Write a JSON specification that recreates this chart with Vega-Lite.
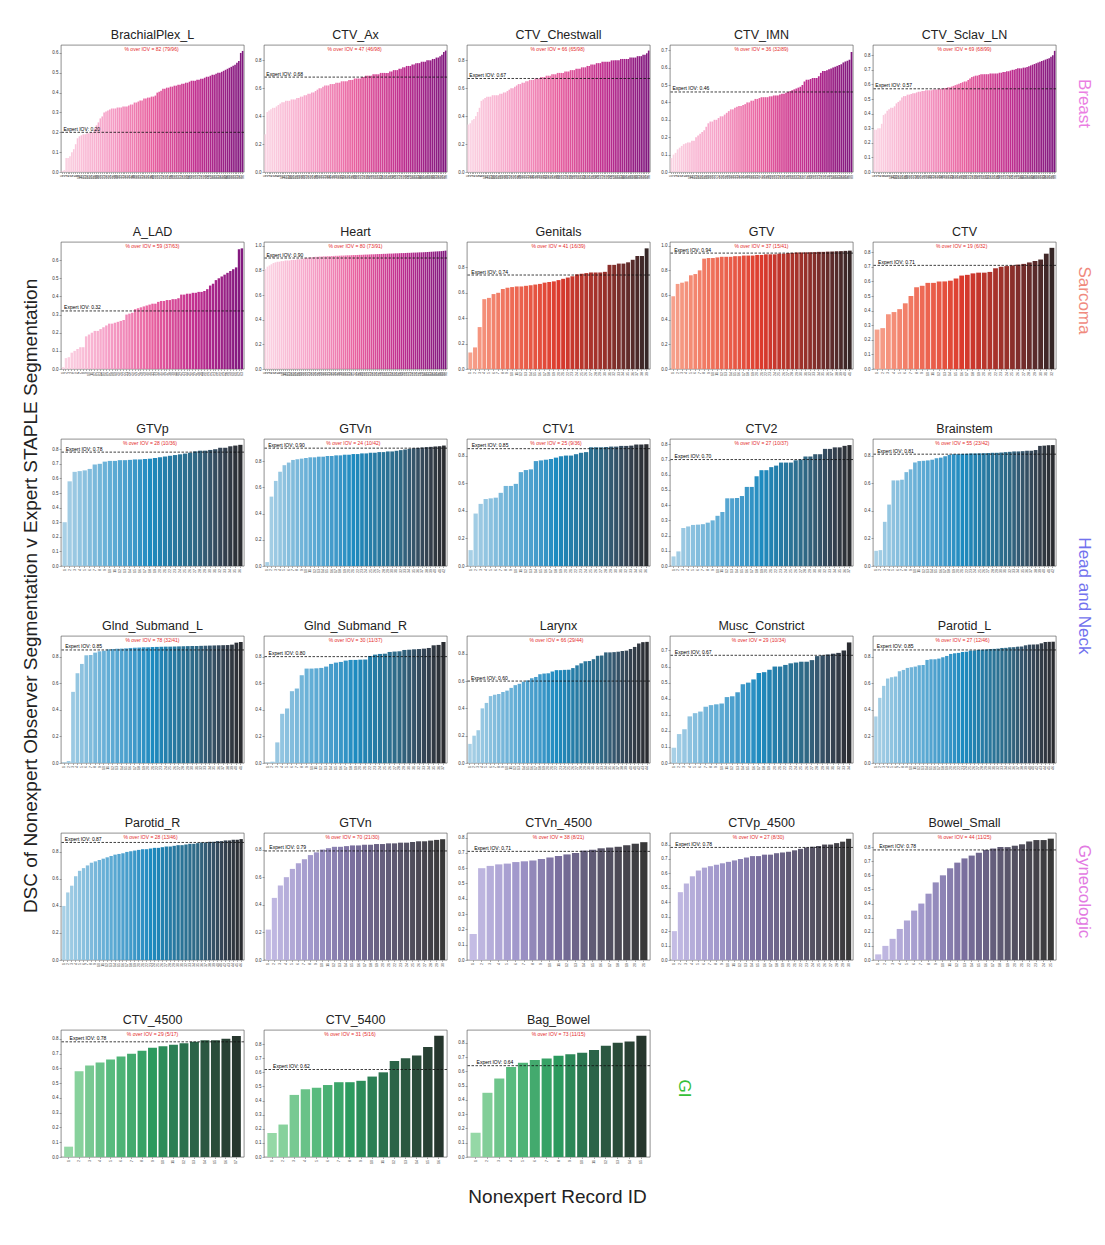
{
"$schema":"https://vega.github.io/schema/vega-lite/v6.json",
"padding":{"left":22,"top":28,"right":5,"bottom":5},
"background":"white",
"config":{
"font":"Liberation Sans",
"view":{"stroke":"#444","strokeWidth":0.6},
"title":{"fontSize":12.5,"fontWeight":"normal","color":"#222","offset":4,"font":"Liberation Sans"},
"axis":{"grid":false,"domain":false,"labelColor":"#333","tickColor":"#555","tickSize":2,"labelPadding":1,"tickWidth":0.5,"labelOverlap":false},
"axisX":{"labelAngle":-90,"labelFontSize":3.5,"labelOverlap":false,"tickSize":1.5},
"axisY":{"labelFontSize":4.5,"format":".1f","labelOverlap":false},
"scale":{"bandPaddingInner":0.15,"bandPaddingOuter":0.3},
"style":{
"iovline":{"strokeDash":[2.5,1.5],"strokeWidth":0.8},
"iovtext":{"align":"left","baseline":"bottom","fontSize":5,"dx":1,"dy":-0.5},
"pcttext":{"align":"center","baseline":"top","fontSize":5,"dy":2}
}
},
"datasets":{
"brachial":[{"i":1,"v":0.005},{"i":2,"v":0.01},{"i":3,"v":0.07},{"i":4,"v":0.07},{"i":5,"v":0.08},{"i":6,"v":0.10},{"i":7,"v":0.115},{"i":8,"v":0.14},{"i":9,"v":0.17},{"i":10,"v":0.18},{"i":11,"v":0.185},{"i":12,"v":0.19},{"i":13,"v":0.19},{"i":14,"v":0.195},{"i":15,"v":0.195},{"i":16,"v":0.20},{"i":17,"v":0.20},{"i":18,"v":0.22},{"i":19,"v":0.235},{"i":20,"v":0.25},{"i":21,"v":0.27},{"i":22,"v":0.28},{"i":23,"v":0.30},{"i":24,"v":0.305},{"i":25,"v":0.31},{"i":26,"v":0.315},{"i":27,"v":0.32},{"i":28,"v":0.32},{"i":29,"v":0.32},{"i":30,"v":0.325},{"i":31,"v":0.325},{"i":32,"v":0.325},{"i":33,"v":0.33},{"i":34,"v":0.33},{"i":35,"v":0.33},{"i":36,"v":0.335},{"i":37,"v":0.34},{"i":38,"v":0.34},{"i":39,"v":0.35},{"i":40,"v":0.35},{"i":41,"v":0.355},{"i":42,"v":0.36},{"i":43,"v":0.36},{"i":44,"v":0.37},{"i":45,"v":0.37},{"i":46,"v":0.375},{"i":47,"v":0.375},{"i":48,"v":0.38},{"i":49,"v":0.38},{"i":50,"v":0.385},{"i":51,"v":0.40},{"i":52,"v":0.405},{"i":53,"v":0.41},{"i":54,"v":0.42},{"i":55,"v":0.42},{"i":56,"v":0.425},{"i":57,"v":0.425},{"i":58,"v":0.43},{"i":59,"v":0.43},{"i":60,"v":0.435},{"i":61,"v":0.435},{"i":62,"v":0.44},{"i":63,"v":0.44},{"i":64,"v":0.445},{"i":65,"v":0.445},{"i":66,"v":0.45},{"i":67,"v":0.45},{"i":68,"v":0.455},{"i":69,"v":0.46},{"i":70,"v":0.46},{"i":71,"v":0.46},{"i":72,"v":0.465},{"i":73,"v":0.465},{"i":74,"v":0.47},{"i":75,"v":0.47},{"i":76,"v":0.475},{"i":77,"v":0.48},{"i":78,"v":0.48},{"i":79,"v":0.485},{"i":80,"v":0.49},{"i":81,"v":0.49},{"i":82,"v":0.495},{"i":83,"v":0.50},{"i":84,"v":0.50},{"i":85,"v":0.505},{"i":86,"v":0.51},{"i":87,"v":0.515},{"i":88,"v":0.52},{"i":89,"v":0.525},{"i":90,"v":0.53},{"i":91,"v":0.535},{"i":92,"v":0.54},{"i":93,"v":0.55},{"i":94,"v":0.56},{"i":95,"v":0.60},{"i":96,"v":0.61}],
"ctvax":[{"i":1,"v":0.27},{"i":2,"v":0.43},{"i":3,"v":0.44},{"i":4,"v":0.45},{"i":5,"v":0.46},{"i":6,"v":0.46},{"i":7,"v":0.47},{"i":8,"v":0.48},{"i":9,"v":0.49},{"i":10,"v":0.50},{"i":11,"v":0.50},{"i":12,"v":0.51},{"i":13,"v":0.51},{"i":14,"v":0.51},{"i":15,"v":0.52},{"i":16,"v":0.52},{"i":17,"v":0.52},{"i":18,"v":0.53},{"i":19,"v":0.53},{"i":20,"v":0.54},{"i":21,"v":0.54},{"i":22,"v":0.55},{"i":23,"v":0.55},{"i":24,"v":0.56},{"i":25,"v":0.56},{"i":26,"v":0.57},{"i":27,"v":0.57},{"i":28,"v":0.58},{"i":29,"v":0.59},{"i":30,"v":0.60},{"i":31,"v":0.60},{"i":32,"v":0.61},{"i":33,"v":0.62},{"i":34,"v":0.62},{"i":35,"v":0.62},{"i":36,"v":0.63},{"i":37,"v":0.63},{"i":38,"v":0.63},{"i":39,"v":0.64},{"i":40,"v":0.64},{"i":41,"v":0.64},{"i":42,"v":0.65},{"i":43,"v":0.65},{"i":44,"v":0.65},{"i":45,"v":0.65},{"i":46,"v":0.66},{"i":47,"v":0.66},{"i":48,"v":0.66},{"i":49,"v":0.67},{"i":50,"v":0.67},{"i":51,"v":0.67},{"i":52,"v":0.67},{"i":53,"v":0.68},{"i":54,"v":0.68},{"i":55,"v":0.69},{"i":56,"v":0.69},{"i":57,"v":0.69},{"i":58,"v":0.69},{"i":59,"v":0.70},{"i":60,"v":0.70},{"i":61,"v":0.70},{"i":62,"v":0.70},{"i":63,"v":0.71},{"i":64,"v":0.71},{"i":65,"v":0.71},{"i":66,"v":0.71},{"i":67,"v":0.71},{"i":68,"v":0.72},{"i":69,"v":0.72},{"i":70,"v":0.73},{"i":71,"v":0.73},{"i":72,"v":0.73},{"i":73,"v":0.74},{"i":74,"v":0.74},{"i":75,"v":0.75},{"i":76,"v":0.75},{"i":77,"v":0.76},{"i":78,"v":0.76},{"i":79,"v":0.76},{"i":80,"v":0.77},{"i":81,"v":0.77},{"i":82,"v":0.78},{"i":83,"v":0.78},{"i":84,"v":0.78},{"i":85,"v":0.79},{"i":86,"v":0.79},{"i":87,"v":0.79},{"i":88,"v":0.80},{"i":89,"v":0.80},{"i":90,"v":0.80},{"i":91,"v":0.81},{"i":92,"v":0.81},{"i":93,"v":0.82},{"i":94,"v":0.82},{"i":95,"v":0.83},{"i":96,"v":0.84},{"i":97,"v":0.86},{"i":98,"v":0.87}],
"chest":[{"i":1,"v":0.34},{"i":2,"v":0.35},{"i":3,"v":0.37},{"i":4,"v":0.38},{"i":5,"v":0.40},{"i":6,"v":0.43},{"i":7,"v":0.46},{"i":8,"v":0.51},{"i":9,"v":0.52},{"i":10,"v":0.53},{"i":11,"v":0.54},{"i":12,"v":0.54},{"i":13,"v":0.54},{"i":14,"v":0.55},{"i":15,"v":0.55},{"i":16,"v":0.55},{"i":17,"v":0.55},{"i":18,"v":0.56},{"i":19,"v":0.56},{"i":20,"v":0.57},{"i":21,"v":0.57},{"i":22,"v":0.58},{"i":23,"v":0.59},{"i":24,"v":0.60},{"i":25,"v":0.60},{"i":26,"v":0.61},{"i":27,"v":0.62},{"i":28,"v":0.63},{"i":29,"v":0.63},{"i":30,"v":0.64},{"i":31,"v":0.64},{"i":32,"v":0.65},{"i":33,"v":0.65},{"i":34,"v":0.66},{"i":35,"v":0.66},{"i":36,"v":0.66},{"i":37,"v":0.67},{"i":38,"v":0.67},{"i":39,"v":0.67},{"i":40,"v":0.68},{"i":41,"v":0.68},{"i":42,"v":0.68},{"i":43,"v":0.69},{"i":44,"v":0.69},{"i":45,"v":0.69},{"i":46,"v":0.70},{"i":47,"v":0.70},{"i":48,"v":0.70},{"i":49,"v":0.71},{"i":50,"v":0.71},{"i":51,"v":0.71},{"i":52,"v":0.71},{"i":53,"v":0.72},{"i":54,"v":0.72},{"i":55,"v":0.72},{"i":56,"v":0.73},{"i":57,"v":0.73},{"i":58,"v":0.73},{"i":59,"v":0.74},{"i":60,"v":0.74},{"i":61,"v":0.74},{"i":62,"v":0.75},{"i":63,"v":0.75},{"i":64,"v":0.75},{"i":65,"v":0.76},{"i":66,"v":0.76},{"i":67,"v":0.77},{"i":68,"v":0.77},{"i":69,"v":0.77},{"i":70,"v":0.78},{"i":71,"v":0.78},{"i":72,"v":0.78},{"i":73,"v":0.79},{"i":74,"v":0.79},{"i":75,"v":0.79},{"i":76,"v":0.79},{"i":77,"v":0.79},{"i":78,"v":0.80},{"i":79,"v":0.80},{"i":80,"v":0.80},{"i":81,"v":0.80},{"i":82,"v":0.80},{"i":83,"v":0.81},{"i":84,"v":0.81},{"i":85,"v":0.81},{"i":86,"v":0.81},{"i":87,"v":0.81},{"i":88,"v":0.82},{"i":89,"v":0.82},{"i":90,"v":0.82},{"i":91,"v":0.82},{"i":92,"v":0.83},{"i":93,"v":0.83},{"i":94,"v":0.83},{"i":95,"v":0.84},{"i":96,"v":0.84},{"i":97,"v":0.85},{"i":98,"v":0.87}],
"imn":[{"i":1,"v":0.08},{"i":2,"v":0.10},{"i":3,"v":0.11},{"i":4,"v":0.13},{"i":5,"v":0.14},{"i":6,"v":0.15},{"i":7,"v":0.16},{"i":8,"v":0.165},{"i":9,"v":0.17},{"i":10,"v":0.17},{"i":11,"v":0.18},{"i":12,"v":0.18},{"i":13,"v":0.20},{"i":14,"v":0.21},{"i":15,"v":0.22},{"i":16,"v":0.23},{"i":17,"v":0.24},{"i":18,"v":0.26},{"i":19,"v":0.28},{"i":20,"v":0.29},{"i":21,"v":0.29},{"i":22,"v":0.30},{"i":23,"v":0.30},{"i":24,"v":0.31},{"i":25,"v":0.32},{"i":26,"v":0.32},{"i":27,"v":0.33},{"i":28,"v":0.34},{"i":29,"v":0.35},{"i":30,"v":0.36},{"i":31,"v":0.36},{"i":32,"v":0.37},{"i":33,"v":0.375},{"i":34,"v":0.38},{"i":35,"v":0.38},{"i":36,"v":0.385},{"i":37,"v":0.39},{"i":38,"v":0.40},{"i":39,"v":0.40},{"i":40,"v":0.41},{"i":41,"v":0.41},{"i":42,"v":0.42},{"i":43,"v":0.42},{"i":44,"v":0.425},{"i":45,"v":0.43},{"i":46,"v":0.43},{"i":47,"v":0.43},{"i":48,"v":0.43},{"i":49,"v":0.435},{"i":50,"v":0.435},{"i":51,"v":0.44},{"i":52,"v":0.44},{"i":53,"v":0.44},{"i":54,"v":0.445},{"i":55,"v":0.45},{"i":56,"v":0.45},{"i":57,"v":0.455},{"i":58,"v":0.46},{"i":59,"v":0.465},{"i":60,"v":0.47},{"i":61,"v":0.475},{"i":62,"v":0.48},{"i":63,"v":0.485},{"i":64,"v":0.49},{"i":65,"v":0.50},{"i":66,"v":0.52},{"i":67,"v":0.53},{"i":68,"v":0.53},{"i":69,"v":0.535},{"i":70,"v":0.54},{"i":71,"v":0.54},{"i":72,"v":0.54},{"i":73,"v":0.55},{"i":74,"v":0.57},{"i":75,"v":0.58},{"i":76,"v":0.58},{"i":77,"v":0.585},{"i":78,"v":0.59},{"i":79,"v":0.595},{"i":80,"v":0.60},{"i":81,"v":0.605},{"i":82,"v":0.61},{"i":83,"v":0.615},{"i":84,"v":0.62},{"i":85,"v":0.63},{"i":86,"v":0.635},{"i":87,"v":0.64},{"i":88,"v":0.645},{"i":89,"v":0.69}],
"sclav":[{"i":1,"v":0.29},{"i":2,"v":0.29},{"i":3,"v":0.30},{"i":4,"v":0.30},{"i":5,"v":0.33},{"i":6,"v":0.39},{"i":7,"v":0.40},{"i":8,"v":0.42},{"i":9,"v":0.43},{"i":10,"v":0.44},{"i":11,"v":0.44},{"i":12,"v":0.45},{"i":13,"v":0.47},{"i":14,"v":0.48},{"i":15,"v":0.49},{"i":16,"v":0.51},{"i":17,"v":0.52},{"i":18,"v":0.52},{"i":19,"v":0.53},{"i":20,"v":0.53},{"i":21,"v":0.535},{"i":22,"v":0.54},{"i":23,"v":0.54},{"i":24,"v":0.545},{"i":25,"v":0.55},{"i":26,"v":0.55},{"i":27,"v":0.555},{"i":28,"v":0.555},{"i":29,"v":0.56},{"i":30,"v":0.56},{"i":31,"v":0.56},{"i":32,"v":0.56},{"i":33,"v":0.565},{"i":34,"v":0.565},{"i":35,"v":0.565},{"i":36,"v":0.57},{"i":37,"v":0.57},{"i":38,"v":0.57},{"i":39,"v":0.575},{"i":40,"v":0.575},{"i":41,"v":0.58},{"i":42,"v":0.58},{"i":43,"v":0.585},{"i":44,"v":0.59},{"i":45,"v":0.595},{"i":46,"v":0.60},{"i":47,"v":0.605},{"i":48,"v":0.61},{"i":49,"v":0.615},{"i":50,"v":0.62},{"i":51,"v":0.62},{"i":52,"v":0.63},{"i":53,"v":0.64},{"i":54,"v":0.65},{"i":55,"v":0.655},{"i":56,"v":0.66},{"i":57,"v":0.66},{"i":58,"v":0.665},{"i":59,"v":0.67},{"i":60,"v":0.67},{"i":61,"v":0.67},{"i":62,"v":0.67},{"i":63,"v":0.67},{"i":64,"v":0.675},{"i":65,"v":0.675},{"i":66,"v":0.675},{"i":67,"v":0.675},{"i":68,"v":0.675},{"i":69,"v":0.68},{"i":70,"v":0.68},{"i":71,"v":0.685},{"i":72,"v":0.685},{"i":73,"v":0.69},{"i":74,"v":0.69},{"i":75,"v":0.695},{"i":76,"v":0.70},{"i":77,"v":0.70},{"i":78,"v":0.705},{"i":79,"v":0.71},{"i":80,"v":0.71},{"i":81,"v":0.71},{"i":82,"v":0.715},{"i":83,"v":0.715},{"i":84,"v":0.72},{"i":85,"v":0.725},{"i":86,"v":0.73},{"i":87,"v":0.735},{"i":88,"v":0.74},{"i":89,"v":0.745},{"i":90,"v":0.75},{"i":91,"v":0.755},{"i":92,"v":0.76},{"i":93,"v":0.765},{"i":94,"v":0.77},{"i":95,"v":0.775},{"i":96,"v":0.78},{"i":97,"v":0.79},{"i":98,"v":0.80},{"i":99,"v":0.83}],
"alad":[{"i":1,"v":0.01},{"i":2,"v":0.06},{"i":3,"v":0.065},{"i":4,"v":0.09},{"i":5,"v":0.10},{"i":6,"v":0.11},{"i":7,"v":0.12},{"i":8,"v":0.12},{"i":9,"v":0.18},{"i":10,"v":0.19},{"i":11,"v":0.20},{"i":12,"v":0.21},{"i":13,"v":0.21},{"i":14,"v":0.22},{"i":15,"v":0.23},{"i":16,"v":0.24},{"i":17,"v":0.25},{"i":18,"v":0.25},{"i":19,"v":0.255},{"i":20,"v":0.26},{"i":21,"v":0.265},{"i":22,"v":0.27},{"i":23,"v":0.30},{"i":24,"v":0.305},{"i":25,"v":0.31},{"i":26,"v":0.33},{"i":27,"v":0.335},{"i":28,"v":0.34},{"i":29,"v":0.345},{"i":30,"v":0.35},{"i":31,"v":0.355},{"i":32,"v":0.36},{"i":33,"v":0.36},{"i":34,"v":0.37},{"i":35,"v":0.375},{"i":36,"v":0.375},{"i":37,"v":0.38},{"i":38,"v":0.38},{"i":39,"v":0.385},{"i":40,"v":0.385},{"i":41,"v":0.39},{"i":42,"v":0.41},{"i":43,"v":0.41},{"i":44,"v":0.415},{"i":45,"v":0.415},{"i":46,"v":0.42},{"i":47,"v":0.42},{"i":48,"v":0.425},{"i":49,"v":0.425},{"i":50,"v":0.43},{"i":51,"v":0.44},{"i":52,"v":0.46},{"i":53,"v":0.47},{"i":54,"v":0.49},{"i":55,"v":0.50},{"i":56,"v":0.51},{"i":57,"v":0.52},{"i":58,"v":0.53},{"i":59,"v":0.54},{"i":60,"v":0.55},{"i":61,"v":0.56},{"i":62,"v":0.66},{"i":63,"v":0.665}],
"heart":[{"i":1,"v":0.81},{"i":2,"v":0.83},{"i":3,"v":0.84},{"i":4,"v":0.85},{"i":5,"v":0.86},{"i":6,"v":0.865},{"i":7,"v":0.87},{"i":8,"v":0.87},{"i":9,"v":0.875},{"i":10,"v":0.875},{"i":11,"v":0.88},{"i":12,"v":0.88},{"i":13,"v":0.88},{"i":14,"v":0.885},{"i":15,"v":0.885},{"i":16,"v":0.885},{"i":17,"v":0.89},{"i":18,"v":0.89},{"i":19,"v":0.89},{"i":20,"v":0.895},{"i":21,"v":0.90},{"i":22,"v":0.902},{"i":23,"v":0.904},{"i":24,"v":0.906},{"i":25,"v":0.908},{"i":26,"v":0.91},{"i":27,"v":0.91},{"i":28,"v":0.912},{"i":29,"v":0.912},{"i":30,"v":0.914},{"i":31,"v":0.914},{"i":32,"v":0.915},{"i":33,"v":0.915},{"i":34,"v":0.916},{"i":35,"v":0.917},{"i":36,"v":0.918},{"i":37,"v":0.918},{"i":38,"v":0.919},{"i":39,"v":0.92},{"i":40,"v":0.92},{"i":41,"v":0.921},{"i":42,"v":0.922},{"i":43,"v":0.922},{"i":44,"v":0.923},{"i":45,"v":0.924},{"i":46,"v":0.924},{"i":47,"v":0.925},{"i":48,"v":0.926},{"i":49,"v":0.926},{"i":50,"v":0.927},{"i":51,"v":0.928},{"i":52,"v":0.928},{"i":53,"v":0.929},{"i":54,"v":0.93},{"i":55,"v":0.93},{"i":56,"v":0.931},{"i":57,"v":0.932},{"i":58,"v":0.932},{"i":59,"v":0.933},{"i":60,"v":0.934},{"i":61,"v":0.934},{"i":62,"v":0.935},{"i":63,"v":0.936},{"i":64,"v":0.936},{"i":65,"v":0.937},{"i":66,"v":0.938},{"i":67,"v":0.938},{"i":68,"v":0.939},{"i":69,"v":0.94},{"i":70,"v":0.94},{"i":71,"v":0.941},{"i":72,"v":0.942},{"i":73,"v":0.942},{"i":74,"v":0.943},{"i":75,"v":0.944},{"i":76,"v":0.944},{"i":77,"v":0.945},{"i":78,"v":0.946},{"i":79,"v":0.946},{"i":80,"v":0.947},{"i":81,"v":0.948},{"i":82,"v":0.949},{"i":83,"v":0.95},{"i":84,"v":0.951},{"i":85,"v":0.952},{"i":86,"v":0.953},{"i":87,"v":0.954},{"i":88,"v":0.955},{"i":89,"v":0.956},{"i":90,"v":0.958},{"i":91,"v":0.96}],
"genitals":[{"i":1,"v":0.13},{"i":2,"v":0.17},{"i":3,"v":0.33},{"i":4,"v":0.55},{"i":5,"v":0.56},{"i":6,"v":0.59},{"i":7,"v":0.60},{"i":8,"v":0.63},{"i":9,"v":0.64},{"i":10,"v":0.645},{"i":11,"v":0.65},{"i":12,"v":0.65},{"i":13,"v":0.655},{"i":14,"v":0.66},{"i":15,"v":0.665},{"i":16,"v":0.67},{"i":17,"v":0.68},{"i":18,"v":0.685},{"i":19,"v":0.69},{"i":20,"v":0.70},{"i":21,"v":0.71},{"i":22,"v":0.72},{"i":23,"v":0.73},{"i":24,"v":0.745},{"i":25,"v":0.75},{"i":26,"v":0.755},{"i":27,"v":0.76},{"i":28,"v":0.76},{"i":29,"v":0.76},{"i":30,"v":0.765},{"i":31,"v":0.82},{"i":32,"v":0.82},{"i":33,"v":0.83},{"i":34,"v":0.83},{"i":35,"v":0.84},{"i":36,"v":0.86},{"i":37,"v":0.89},{"i":38,"v":0.89},{"i":39,"v":0.95}],
"gtvs":[{"i":1,"v":0.59},{"i":2,"v":0.69},{"i":3,"v":0.70},{"i":4,"v":0.71},{"i":5,"v":0.76},{"i":6,"v":0.77},{"i":7,"v":0.80},{"i":8,"v":0.895},{"i":9,"v":0.90},{"i":10,"v":0.90},{"i":11,"v":0.905},{"i":12,"v":0.91},{"i":13,"v":0.91},{"i":14,"v":0.91},{"i":15,"v":0.915},{"i":16,"v":0.915},{"i":17,"v":0.92},{"i":18,"v":0.92},{"i":19,"v":0.92},{"i":20,"v":0.925},{"i":21,"v":0.925},{"i":22,"v":0.93},{"i":23,"v":0.93},{"i":24,"v":0.93},{"i":25,"v":0.935},{"i":26,"v":0.935},{"i":27,"v":0.94},{"i":28,"v":0.942},{"i":29,"v":0.944},{"i":30,"v":0.945},{"i":31,"v":0.946},{"i":32,"v":0.947},{"i":33,"v":0.948},{"i":34,"v":0.95},{"i":35,"v":0.95},{"i":36,"v":0.952},{"i":37,"v":0.953},{"i":38,"v":0.955},{"i":39,"v":0.956},{"i":40,"v":0.958},{"i":41,"v":0.96}],
"ctvs":[{"i":1,"v":0.27},{"i":2,"v":0.28},{"i":3,"v":0.375},{"i":4,"v":0.39},{"i":5,"v":0.41},{"i":6,"v":0.45},{"i":7,"v":0.50},{"i":8,"v":0.56},{"i":9,"v":0.57},{"i":10,"v":0.59},{"i":11,"v":0.59},{"i":12,"v":0.60},{"i":13,"v":0.60},{"i":14,"v":0.605},{"i":15,"v":0.62},{"i":16,"v":0.64},{"i":17,"v":0.645},{"i":18,"v":0.655},{"i":19,"v":0.66},{"i":20,"v":0.66},{"i":21,"v":0.665},{"i":22,"v":0.69},{"i":23,"v":0.70},{"i":24,"v":0.705},{"i":25,"v":0.71},{"i":26,"v":0.715},{"i":27,"v":0.72},{"i":28,"v":0.73},{"i":29,"v":0.74},{"i":30,"v":0.75},{"i":31,"v":0.79},{"i":32,"v":0.83}],
"gtvp":[{"i":1,"v":0.30},{"i":2,"v":0.58},{"i":3,"v":0.645},{"i":4,"v":0.65},{"i":5,"v":0.655},{"i":6,"v":0.665},{"i":7,"v":0.695},{"i":8,"v":0.70},{"i":9,"v":0.715},{"i":10,"v":0.72},{"i":11,"v":0.72},{"i":12,"v":0.725},{"i":13,"v":0.725},{"i":14,"v":0.727},{"i":15,"v":0.73},{"i":16,"v":0.73},{"i":17,"v":0.733},{"i":18,"v":0.735},{"i":19,"v":0.74},{"i":20,"v":0.745},{"i":21,"v":0.75},{"i":22,"v":0.755},{"i":23,"v":0.76},{"i":24,"v":0.765},{"i":25,"v":0.77},{"i":26,"v":0.775},{"i":27,"v":0.785},{"i":28,"v":0.79},{"i":29,"v":0.79},{"i":30,"v":0.795},{"i":31,"v":0.80},{"i":32,"v":0.81},{"i":33,"v":0.81},{"i":34,"v":0.82},{"i":35,"v":0.825},{"i":36,"v":0.83}],
"gtvn":[{"i":1,"v":0.03},{"i":2,"v":0.53},{"i":3,"v":0.65},{"i":4,"v":0.72},{"i":5,"v":0.77},{"i":6,"v":0.79},{"i":7,"v":0.81},{"i":8,"v":0.815},{"i":9,"v":0.82},{"i":10,"v":0.825},{"i":11,"v":0.83},{"i":12,"v":0.83},{"i":13,"v":0.835},{"i":14,"v":0.835},{"i":15,"v":0.84},{"i":16,"v":0.84},{"i":17,"v":0.845},{"i":18,"v":0.845},{"i":19,"v":0.85},{"i":20,"v":0.85},{"i":21,"v":0.855},{"i":22,"v":0.855},{"i":23,"v":0.86},{"i":24,"v":0.86},{"i":25,"v":0.865},{"i":26,"v":0.865},{"i":27,"v":0.87},{"i":28,"v":0.87},{"i":29,"v":0.875},{"i":30,"v":0.875},{"i":31,"v":0.88},{"i":32,"v":0.885},{"i":33,"v":0.89},{"i":34,"v":0.895},{"i":35,"v":0.90},{"i":36,"v":0.902},{"i":37,"v":0.905},{"i":38,"v":0.908},{"i":39,"v":0.91},{"i":40,"v":0.913},{"i":41,"v":0.915},{"i":42,"v":0.92}],
"ctv1":[{"i":1,"v":0.115},{"i":2,"v":0.38},{"i":3,"v":0.45},{"i":4,"v":0.485},{"i":5,"v":0.49},{"i":6,"v":0.495},{"i":7,"v":0.53},{"i":8,"v":0.58},{"i":9,"v":0.58},{"i":10,"v":0.595},{"i":11,"v":0.68},{"i":12,"v":0.695},{"i":13,"v":0.70},{"i":14,"v":0.76},{"i":15,"v":0.765},{"i":16,"v":0.77},{"i":17,"v":0.775},{"i":18,"v":0.785},{"i":19,"v":0.795},{"i":20,"v":0.80},{"i":21,"v":0.80},{"i":22,"v":0.81},{"i":23,"v":0.82},{"i":24,"v":0.825},{"i":25,"v":0.86},{"i":26,"v":0.86},{"i":27,"v":0.86},{"i":28,"v":0.862},{"i":29,"v":0.865},{"i":30,"v":0.865},{"i":31,"v":0.87},{"i":32,"v":0.87},{"i":33,"v":0.872},{"i":34,"v":0.88},{"i":35,"v":0.88},{"i":36,"v":0.882}],
"ctv2":[{"i":1,"v":0.063},{"i":2,"v":0.096},{"i":3,"v":0.25},{"i":4,"v":0.26},{"i":5,"v":0.27},{"i":6,"v":0.272},{"i":7,"v":0.275},{"i":8,"v":0.285},{"i":9,"v":0.30},{"i":10,"v":0.33},{"i":11,"v":0.355},{"i":12,"v":0.445},{"i":13,"v":0.445},{"i":14,"v":0.447},{"i":15,"v":0.46},{"i":16,"v":0.52},{"i":17,"v":0.52},{"i":18,"v":0.59},{"i":19,"v":0.63},{"i":20,"v":0.63},{"i":21,"v":0.65},{"i":22,"v":0.66},{"i":23,"v":0.68},{"i":24,"v":0.68},{"i":25,"v":0.68},{"i":26,"v":0.695},{"i":27,"v":0.70},{"i":28,"v":0.72},{"i":29,"v":0.72},{"i":30,"v":0.735},{"i":31,"v":0.735},{"i":32,"v":0.77},{"i":33,"v":0.77},{"i":34,"v":0.78},{"i":35,"v":0.78},{"i":36,"v":0.79},{"i":37,"v":0.795}],
"brain":[{"i":1,"v":0.11},{"i":2,"v":0.115},{"i":3,"v":0.32},{"i":4,"v":0.445},{"i":5,"v":0.62},{"i":6,"v":0.62},{"i":7,"v":0.625},{"i":8,"v":0.68},{"i":9,"v":0.70},{"i":10,"v":0.75},{"i":11,"v":0.76},{"i":12,"v":0.762},{"i":13,"v":0.765},{"i":14,"v":0.77},{"i":15,"v":0.78},{"i":16,"v":0.785},{"i":17,"v":0.795},{"i":18,"v":0.805},{"i":19,"v":0.81},{"i":20,"v":0.81},{"i":21,"v":0.812},{"i":22,"v":0.813},{"i":23,"v":0.815},{"i":24,"v":0.815},{"i":25,"v":0.816},{"i":26,"v":0.817},{"i":27,"v":0.818},{"i":28,"v":0.82},{"i":29,"v":0.82},{"i":30,"v":0.822},{"i":31,"v":0.825},{"i":32,"v":0.827},{"i":33,"v":0.83},{"i":34,"v":0.83},{"i":35,"v":0.832},{"i":36,"v":0.835},{"i":37,"v":0.835},{"i":38,"v":0.84},{"i":39,"v":0.87},{"i":40,"v":0.872},{"i":41,"v":0.875},{"i":42,"v":0.876}],
"glndl":[{"i":1,"v":0.005},{"i":2,"v":0.015},{"i":3,"v":0.535},{"i":4,"v":0.675},{"i":5,"v":0.745},{"i":6,"v":0.81},{"i":7,"v":0.812},{"i":8,"v":0.83},{"i":9,"v":0.84},{"i":10,"v":0.845},{"i":11,"v":0.855},{"i":12,"v":0.857},{"i":13,"v":0.86},{"i":14,"v":0.86},{"i":15,"v":0.862},{"i":16,"v":0.865},{"i":17,"v":0.867},{"i":18,"v":0.868},{"i":19,"v":0.87},{"i":20,"v":0.87},{"i":21,"v":0.872},{"i":22,"v":0.873},{"i":23,"v":0.874},{"i":24,"v":0.875},{"i":25,"v":0.875},{"i":26,"v":0.876},{"i":27,"v":0.877},{"i":28,"v":0.878},{"i":29,"v":0.879},{"i":30,"v":0.88},{"i":31,"v":0.88},{"i":32,"v":0.881},{"i":33,"v":0.882},{"i":34,"v":0.883},{"i":35,"v":0.884},{"i":36,"v":0.885},{"i":37,"v":0.886},{"i":38,"v":0.887},{"i":39,"v":0.89},{"i":40,"v":0.905},{"i":41,"v":0.91}],
"glndr":[{"i":1,"v":0.003},{"i":2,"v":0.01},{"i":3,"v":0.155},{"i":4,"v":0.37},{"i":5,"v":0.41},{"i":6,"v":0.54},{"i":7,"v":0.56},{"i":8,"v":0.66},{"i":9,"v":0.71},{"i":10,"v":0.71},{"i":11,"v":0.712},{"i":12,"v":0.715},{"i":13,"v":0.725},{"i":14,"v":0.745},{"i":15,"v":0.755},{"i":16,"v":0.76},{"i":17,"v":0.77},{"i":18,"v":0.775},{"i":19,"v":0.775},{"i":20,"v":0.777},{"i":21,"v":0.778},{"i":22,"v":0.805},{"i":23,"v":0.815},{"i":24,"v":0.82},{"i":25,"v":0.822},{"i":26,"v":0.835},{"i":27,"v":0.838},{"i":28,"v":0.84},{"i":29,"v":0.85},{"i":30,"v":0.852},{"i":31,"v":0.855},{"i":32,"v":0.857},{"i":33,"v":0.86},{"i":34,"v":0.865},{"i":35,"v":0.885},{"i":36,"v":0.888},{"i":37,"v":0.91}],
"larynx":[{"i":1,"v":0.14},{"i":2,"v":0.20},{"i":3,"v":0.24},{"i":4,"v":0.40},{"i":5,"v":0.44},{"i":6,"v":0.49},{"i":7,"v":0.50},{"i":8,"v":0.505},{"i":9,"v":0.52},{"i":10,"v":0.53},{"i":11,"v":0.55},{"i":12,"v":0.57},{"i":13,"v":0.58},{"i":14,"v":0.595},{"i":15,"v":0.605},{"i":16,"v":0.62},{"i":17,"v":0.63},{"i":18,"v":0.65},{"i":19,"v":0.655},{"i":20,"v":0.657},{"i":21,"v":0.67},{"i":22,"v":0.68},{"i":23,"v":0.68},{"i":24,"v":0.682},{"i":25,"v":0.683},{"i":26,"v":0.695},{"i":27,"v":0.715},{"i":28,"v":0.73},{"i":29,"v":0.745},{"i":30,"v":0.747},{"i":31,"v":0.76},{"i":32,"v":0.785},{"i":33,"v":0.787},{"i":34,"v":0.81},{"i":35,"v":0.81},{"i":36,"v":0.812},{"i":37,"v":0.815},{"i":38,"v":0.82},{"i":39,"v":0.823},{"i":40,"v":0.835},{"i":41,"v":0.85},{"i":42,"v":0.875},{"i":43,"v":0.885},{"i":44,"v":0.887}],
"musc":[{"i":1,"v":0.095},{"i":2,"v":0.18},{"i":3,"v":0.21},{"i":4,"v":0.29},{"i":5,"v":0.31},{"i":6,"v":0.32},{"i":7,"v":0.35},{"i":8,"v":0.36},{"i":9,"v":0.365},{"i":10,"v":0.37},{"i":11,"v":0.41},{"i":12,"v":0.415},{"i":13,"v":0.44},{"i":14,"v":0.49},{"i":15,"v":0.50},{"i":16,"v":0.52},{"i":17,"v":0.56},{"i":18,"v":0.565},{"i":19,"v":0.58},{"i":20,"v":0.60},{"i":21,"v":0.60},{"i":22,"v":0.61},{"i":23,"v":0.62},{"i":24,"v":0.625},{"i":25,"v":0.63},{"i":26,"v":0.63},{"i":27,"v":0.64},{"i":28,"v":0.665},{"i":29,"v":0.67},{"i":30,"v":0.675},{"i":31,"v":0.68},{"i":32,"v":0.685},{"i":33,"v":0.70},{"i":34,"v":0.75}],
"parl":[{"i":1,"v":0.35},{"i":2,"v":0.49},{"i":3,"v":0.58},{"i":4,"v":0.635},{"i":5,"v":0.645},{"i":6,"v":0.65},{"i":7,"v":0.69},{"i":8,"v":0.70},{"i":9,"v":0.715},{"i":10,"v":0.72},{"i":11,"v":0.725},{"i":12,"v":0.735},{"i":13,"v":0.737},{"i":14,"v":0.775},{"i":15,"v":0.78},{"i":16,"v":0.78},{"i":17,"v":0.785},{"i":18,"v":0.795},{"i":19,"v":0.805},{"i":20,"v":0.82},{"i":21,"v":0.825},{"i":22,"v":0.828},{"i":23,"v":0.835},{"i":24,"v":0.837},{"i":25,"v":0.845},{"i":26,"v":0.846},{"i":27,"v":0.85},{"i":28,"v":0.852},{"i":29,"v":0.854},{"i":30,"v":0.857},{"i":31,"v":0.858},{"i":32,"v":0.86},{"i":33,"v":0.865},{"i":34,"v":0.866},{"i":35,"v":0.87},{"i":36,"v":0.871},{"i":37,"v":0.875},{"i":38,"v":0.876},{"i":39,"v":0.885},{"i":40,"v":0.89},{"i":41,"v":0.891},{"i":42,"v":0.892},{"i":43,"v":0.90},{"i":44,"v":0.91},{"i":45,"v":0.911},{"i":46,"v":0.912}],
"parr":[{"i":1,"v":0.40},{"i":2,"v":0.50},{"i":3,"v":0.55},{"i":4,"v":0.62},{"i":5,"v":0.66},{"i":6,"v":0.68},{"i":7,"v":0.70},{"i":8,"v":0.72},{"i":9,"v":0.73},{"i":10,"v":0.74},{"i":11,"v":0.75},{"i":12,"v":0.76},{"i":13,"v":0.77},{"i":14,"v":0.78},{"i":15,"v":0.785},{"i":16,"v":0.79},{"i":17,"v":0.80},{"i":18,"v":0.805},{"i":19,"v":0.81},{"i":20,"v":0.815},{"i":21,"v":0.82},{"i":22,"v":0.82},{"i":23,"v":0.825},{"i":24,"v":0.83},{"i":25,"v":0.83},{"i":26,"v":0.835},{"i":27,"v":0.84},{"i":28,"v":0.84},{"i":29,"v":0.845},{"i":30,"v":0.85},{"i":31,"v":0.85},{"i":32,"v":0.855},{"i":33,"v":0.86},{"i":34,"v":0.86},{"i":35,"v":0.865},{"i":36,"v":0.87},{"i":37,"v":0.87},{"i":38,"v":0.875},{"i":39,"v":0.875},{"i":40,"v":0.88},{"i":41,"v":0.88},{"i":42,"v":0.885},{"i":43,"v":0.885},{"i":44,"v":0.89},{"i":45,"v":0.89},{"i":46,"v":0.895}],
"ggtvn":[{"i":1,"v":0.22},{"i":2,"v":0.45},{"i":3,"v":0.54},{"i":4,"v":0.60},{"i":5,"v":0.66},{"i":6,"v":0.70},{"i":7,"v":0.73},{"i":8,"v":0.76},{"i":9,"v":0.78},{"i":10,"v":0.80},{"i":11,"v":0.81},{"i":12,"v":0.82},{"i":13,"v":0.82},{"i":14,"v":0.825},{"i":15,"v":0.83},{"i":16,"v":0.83},{"i":17,"v":0.835},{"i":18,"v":0.835},{"i":19,"v":0.84},{"i":20,"v":0.84},{"i":21,"v":0.845},{"i":22,"v":0.845},{"i":23,"v":0.85},{"i":24,"v":0.85},{"i":25,"v":0.855},{"i":26,"v":0.86},{"i":27,"v":0.86},{"i":28,"v":0.865},{"i":29,"v":0.87},{"i":30,"v":0.875}],
"ctvn45":[{"i":1,"v":0.17},{"i":2,"v":0.60},{"i":3,"v":0.615},{"i":4,"v":0.625},{"i":5,"v":0.63},{"i":6,"v":0.64},{"i":7,"v":0.645},{"i":8,"v":0.65},{"i":9,"v":0.66},{"i":10,"v":0.67},{"i":11,"v":0.68},{"i":12,"v":0.69},{"i":13,"v":0.70},{"i":14,"v":0.715},{"i":15,"v":0.72},{"i":16,"v":0.73},{"i":17,"v":0.735},{"i":18,"v":0.74},{"i":19,"v":0.75},{"i":20,"v":0.76},{"i":21,"v":0.77}],
"ctvp45":[{"i":1,"v":0.20},{"i":2,"v":0.47},{"i":3,"v":0.53},{"i":4,"v":0.58},{"i":5,"v":0.62},{"i":6,"v":0.64},{"i":7,"v":0.65},{"i":8,"v":0.66},{"i":9,"v":0.67},{"i":10,"v":0.68},{"i":11,"v":0.69},{"i":12,"v":0.70},{"i":13,"v":0.71},{"i":14,"v":0.72},{"i":15,"v":0.72},{"i":16,"v":0.73},{"i":17,"v":0.73},{"i":18,"v":0.74},{"i":19,"v":0.745},{"i":20,"v":0.75},{"i":21,"v":0.76},{"i":22,"v":0.77},{"i":23,"v":0.78},{"i":24,"v":0.785},{"i":25,"v":0.79},{"i":26,"v":0.80},{"i":27,"v":0.80},{"i":28,"v":0.81},{"i":29,"v":0.82},{"i":30,"v":0.84}],
"bowel":[{"i":1,"v":0.04},{"i":2,"v":0.10},{"i":3,"v":0.15},{"i":4,"v":0.22},{"i":5,"v":0.28},{"i":6,"v":0.35},{"i":7,"v":0.40},{"i":8,"v":0.47},{"i":9,"v":0.55},{"i":10,"v":0.60},{"i":11,"v":0.65},{"i":12,"v":0.69},{"i":13,"v":0.72},{"i":14,"v":0.74},{"i":15,"v":0.76},{"i":16,"v":0.78},{"i":17,"v":0.79},{"i":18,"v":0.80},{"i":19,"v":0.80},{"i":20,"v":0.81},{"i":21,"v":0.82},{"i":22,"v":0.84},{"i":23,"v":0.85},{"i":24,"v":0.85},{"i":25,"v":0.86}],
"ctv45":[{"i":1,"v":0.07},{"i":2,"v":0.58},{"i":3,"v":0.62},{"i":4,"v":0.64},{"i":5,"v":0.66},{"i":6,"v":0.68},{"i":7,"v":0.70},{"i":8,"v":0.72},{"i":9,"v":0.74},{"i":10,"v":0.75},{"i":11,"v":0.76},{"i":12,"v":0.77},{"i":13,"v":0.78},{"i":14,"v":0.79},{"i":15,"v":0.79},{"i":16,"v":0.80},{"i":17,"v":0.82}],
"ctv54":[{"i":1,"v":0.17},{"i":2,"v":0.23},{"i":3,"v":0.44},{"i":4,"v":0.48},{"i":5,"v":0.49},{"i":6,"v":0.51},{"i":7,"v":0.53},{"i":8,"v":0.53},{"i":9,"v":0.54},{"i":10,"v":0.57},{"i":11,"v":0.60},{"i":12,"v":0.68},{"i":13,"v":0.70},{"i":14,"v":0.72},{"i":15,"v":0.78},{"i":16,"v":0.86}],
"bag":[{"i":1,"v":0.17},{"i":2,"v":0.45},{"i":3,"v":0.55},{"i":4,"v":0.63},{"i":5,"v":0.66},{"i":6,"v":0.68},{"i":7,"v":0.69},{"i":8,"v":0.71},{"i":9,"v":0.72},{"i":10,"v":0.73},{"i":11,"v":0.75},{"i":12,"v":0.78},{"i":13,"v":0.80},{"i":14,"v":0.81},{"i":15,"v":0.85}]
},
"title":{"text":"Nonexpert Record ID","orient":"bottom","anchor":"middle","fontSize":19,"fontWeight":"normal","color":"#222","offset":24},
"resolve":{"scale":{"color":"independent"}},
"vconcat":[{
"title":{"text":"DSC of Nonexpert Observer Segmentation v Expert STAPLE Segmentation","orient":"left","anchor":"middle","fontSize":19,"fontWeight":"normal","color":"#222","offset":10},
"spacing":46,
"resolve":{"scale":{"color":"independent"}},
"vconcat":[
{"title":{"text":"Breast","orient":"right","anchor":"middle","fontSize":17,"fontWeight":"normal","color":"#ea7ee2","offset":18},
"spacing":20,"bounds":"flush","resolve":{"scale":{"color":"independent"}},
"hconcat":[
{"title":"BrachialPlex_L","width":183,"height":127,"data":{"name":"brachial"},"layer":[
{"mark":"bar","encoding":{"x":{"field":"i","type":"ordinal","title":null},"y":{"field":"v","type":"quantitative","title":null,"scale":{"domain":[0,0.64],"nice":false},"axis":{"values":[0,0.1,0.2,0.3,0.4,0.5,0.6]}},"color":{"field":"i","type":"quantitative","legend":null,"scale":{"domain":[1,25,48,72,96],"range":["#fbd5e4","#f6a3c9","#e8609f","#c02e8f","#80197e"]}}}},
{"data":{"values":[{}]},"mark":{"type":"rule","style":"iovline","color":"#111"},"encoding":{"y":{"datum":0.2,"axis":{"values":[0,0.1,0.2,0.3,0.4,0.5,0.6]}}}},
{"data":{"values":[{}]},"mark":{"type":"text","style":"iovtext"},"encoding":{"x":{"datum":1,"type":"ordinal"},"y":{"datum":0.2,"axis":{"values":[0,0.1,0.2,0.3,0.4,0.5,0.6]}},"text":{"value":"Expert IOV: 0.20"}}},
{"data":{"values":[{}]},"mark":{"type":"text","style":"pcttext","color":"#e42a2a"},"encoding":{"x":{"datum":48,"type":"ordinal"},"y":{"datum":0.64,"axis":{"values":[0,0.1,0.2,0.3,0.4,0.5,0.6]}},"text":{"value":"% over IOV = 82 (79/96)"}}}]},
{"title":"CTV_Ax","width":183,"height":127,"data":{"name":"ctvax"},"layer":[
{"mark":"bar","encoding":{"x":{"field":"i","type":"ordinal","title":null},"y":{"field":"v","type":"quantitative","title":null,"scale":{"domain":[0,0.91],"nice":false},"axis":{"values":[0,0.2,0.4,0.6,0.8]}},"color":{"field":"i","type":"quantitative","legend":null,"scale":{"domain":[1,25,49,74,98],"range":["#fbd5e4","#f6a3c9","#e8609f","#c02e8f","#80197e"]}}}},
{"data":{"values":[{}]},"mark":{"type":"rule","style":"iovline","color":"#111"},"encoding":{"y":{"datum":0.68,"axis":{"values":[0,0.2,0.4,0.6,0.8]}}}},
{"data":{"values":[{}]},"mark":{"type":"text","style":"iovtext"},"encoding":{"x":{"datum":1,"type":"ordinal"},"y":{"datum":0.68,"axis":{"values":[0,0.2,0.4,0.6,0.8]}},"text":{"value":"Expert IOV: 0.68"}}},
{"data":{"values":[{}]},"mark":{"type":"text","style":"pcttext","color":"#e42a2a"},"encoding":{"x":{"datum":49,"type":"ordinal"},"y":{"datum":0.91,"axis":{"values":[0,0.2,0.4,0.6,0.8]}},"text":{"value":"% over IOV = 47 (46/98)"}}}]},
{"title":"CTV_Chestwall","width":183,"height":127,"data":{"name":"chest"},"layer":[
{"mark":"bar","encoding":{"x":{"field":"i","type":"ordinal","title":null},"y":{"field":"v","type":"quantitative","title":null,"scale":{"domain":[0,0.91],"nice":false},"axis":{"values":[0,0.2,0.4,0.6,0.8]}},"color":{"field":"i","type":"quantitative","legend":null,"scale":{"domain":[1,25,49,74,98],"range":["#fbd5e4","#f6a3c9","#e8609f","#c02e8f","#80197e"]}}}},
{"data":{"values":[{}]},"mark":{"type":"rule","style":"iovline","color":"#111"},"encoding":{"y":{"datum":0.67,"axis":{"values":[0,0.2,0.4,0.6,0.8]}}}},
{"data":{"values":[{}]},"mark":{"type":"text","style":"iovtext"},"encoding":{"x":{"datum":1,"type":"ordinal"},"y":{"datum":0.67,"axis":{"values":[0,0.2,0.4,0.6,0.8]}},"text":{"value":"Expert IOV: 0.67"}}},
{"data":{"values":[{}]},"mark":{"type":"text","style":"pcttext","color":"#e42a2a"},"encoding":{"x":{"datum":49,"type":"ordinal"},"y":{"datum":0.91,"axis":{"values":[0,0.2,0.4,0.6,0.8]}},"text":{"value":"% over IOV = 66 (65/98)"}}}]},
{"title":"CTV_IMN","width":183,"height":127,"data":{"name":"imn"},"layer":[
{"mark":"bar","encoding":{"x":{"field":"i","type":"ordinal","title":null},"y":{"field":"v","type":"quantitative","title":null,"scale":{"domain":[0,0.73],"nice":false},"axis":{"values":[0,0.1,0.2,0.3,0.4,0.5,0.6,0.7]}},"color":{"field":"i","type":"quantitative","legend":null,"scale":{"domain":[1,23,45,67,89],"range":["#fbd5e4","#f6a3c9","#e8609f","#c02e8f","#80197e"]}}}},
{"data":{"values":[{}]},"mark":{"type":"rule","style":"iovline","color":"#111"},"encoding":{"y":{"datum":0.46,"axis":{"values":[0,0.1,0.2,0.3,0.4,0.5,0.6,0.7]}}}},
{"data":{"values":[{}]},"mark":{"type":"text","style":"iovtext"},"encoding":{"x":{"datum":1,"type":"ordinal"},"y":{"datum":0.46,"axis":{"values":[0,0.1,0.2,0.3,0.4,0.5,0.6,0.7]}},"text":{"value":"Expert IOV: 0.46"}}},
{"data":{"values":[{}]},"mark":{"type":"text","style":"pcttext","color":"#e42a2a"},"encoding":{"x":{"datum":45,"type":"ordinal"},"y":{"datum":0.73,"axis":{"values":[0,0.1,0.2,0.3,0.4,0.5,0.6,0.7]}},"text":{"value":"% over IOV = 36 (32/89)"}}}]},
{"title":"CTV_Sclav_LN","width":183,"height":127,"data":{"name":"sclav"},"layer":[
{"mark":"bar","encoding":{"x":{"field":"i","type":"ordinal","title":null},"y":{"field":"v","type":"quantitative","title":null,"scale":{"domain":[0,0.87],"nice":false},"axis":{"values":[0,0.1,0.2,0.3,0.4,0.5,0.6,0.7,0.8]}},"color":{"field":"i","type":"quantitative","legend":null,"scale":{"domain":[1,25,50,75,99],"range":["#fbd5e4","#f6a3c9","#e8609f","#c02e8f","#80197e"]}}}},
{"data":{"values":[{}]},"mark":{"type":"rule","style":"iovline","color":"#111"},"encoding":{"y":{"datum":0.57,"axis":{"values":[0,0.1,0.2,0.3,0.4,0.5,0.6,0.7,0.8]}}}},
{"data":{"values":[{}]},"mark":{"type":"text","style":"iovtext"},"encoding":{"x":{"datum":1,"type":"ordinal"},"y":{"datum":0.57,"axis":{"values":[0,0.1,0.2,0.3,0.4,0.5,0.6,0.7,0.8]}},"text":{"value":"Expert IOV: 0.57"}}},
{"data":{"values":[{}]},"mark":{"type":"text","style":"pcttext","color":"#e42a2a"},"encoding":{"x":{"datum":50,"type":"ordinal"},"y":{"datum":0.87,"axis":{"values":[0,0.1,0.2,0.3,0.4,0.5,0.6,0.7,0.8]}},"text":{"value":"% over IOV = 69 (68/99)"}}}]}
]},
{"title":{"text":"Sarcoma","orient":"right","anchor":"middle","fontSize":17,"fontWeight":"normal","color":"#f08a7e","offset":18},
"spacing":20,"bounds":"flush","resolve":{"scale":{"color":"independent"}},
"hconcat":[
{"title":"A_LAD","width":183,"height":127,"data":{"name":"alad"},"layer":[
{"mark":"bar","encoding":{"x":{"field":"i","type":"ordinal","title":null},"y":{"field":"v","type":"quantitative","title":null,"scale":{"domain":[0,0.70],"nice":false},"axis":{"values":[0,0.1,0.2,0.3,0.4,0.5,0.6]}},"color":{"field":"i","type":"quantitative","legend":null,"scale":{"domain":[1,16,32,47,63],"range":["#fbd5e4","#f6a3c9","#e8609f","#c02e8f","#80197e"]}}}},
{"data":{"values":[{}]},"mark":{"type":"rule","style":"iovline","color":"#111"},"encoding":{"y":{"datum":0.32,"axis":{"values":[0,0.1,0.2,0.3,0.4,0.5,0.6]}}}},
{"data":{"values":[{}]},"mark":{"type":"text","style":"iovtext"},"encoding":{"x":{"datum":1,"type":"ordinal"},"y":{"datum":0.32,"axis":{"values":[0,0.1,0.2,0.3,0.4,0.5,0.6]}},"text":{"value":"Expert IOV: 0.32"}}},
{"data":{"values":[{}]},"mark":{"type":"text","style":"pcttext","color":"#e42a2a"},"encoding":{"x":{"datum":32,"type":"ordinal"},"y":{"datum":0.70,"axis":{"values":[0,0.1,0.2,0.3,0.4,0.5,0.6]}},"text":{"value":"% over IOV = 59 (37/63)"}}}]},
{"title":"Heart","width":183,"height":127,"data":{"name":"heart"},"layer":[
{"mark":"bar","encoding":{"x":{"field":"i","type":"ordinal","title":null},"y":{"field":"v","type":"quantitative","title":null,"scale":{"domain":[0,1.03],"nice":false},"axis":{"values":[0,0.2,0.4,0.6,0.8,1.0]}},"color":{"field":"i","type":"quantitative","legend":null,"scale":{"domain":[1,23,46,68,91],"range":["#fbd5e4","#f6a3c9","#e8609f","#c02e8f","#80197e"]}}}},
{"data":{"values":[{}]},"mark":{"type":"rule","style":"iovline","color":"#111"},"encoding":{"y":{"datum":0.90,"axis":{"values":[0,0.2,0.4,0.6,0.8,1.0]}}}},
{"data":{"values":[{}]},"mark":{"type":"text","style":"iovtext"},"encoding":{"x":{"datum":1,"type":"ordinal"},"y":{"datum":0.90,"axis":{"values":[0,0.2,0.4,0.6,0.8,1.0]}},"text":{"value":"Expert IOV: 0.90"}}},
{"data":{"values":[{}]},"mark":{"type":"text","style":"pcttext","color":"#e42a2a"},"encoding":{"x":{"datum":46,"type":"ordinal"},"y":{"datum":1.03,"axis":{"values":[0,0.2,0.4,0.6,0.8,1.0]}},"text":{"value":"% over IOV = 80 (73/91)"}}}]},
{"title":"Genitals","width":183,"height":127,"data":{"name":"genitals"},"layer":[
{"mark":"bar","encoding":{"x":{"field":"i","type":"ordinal","title":null},"y":{"field":"v","type":"quantitative","title":null,"scale":{"domain":[0,1.0],"nice":false},"axis":{"values":[0,0.2,0.4,0.6,0.8]}},"color":{"field":"i","type":"quantitative","legend":null,"scale":{"domain":[1,10,20,30,39],"range":["#f6a18c","#ee6a55","#dc3a2d","#97302a","#352626"]}}}},
{"data":{"values":[{}]},"mark":{"type":"rule","style":"iovline","color":"#111"},"encoding":{"y":{"datum":0.74,"axis":{"values":[0,0.2,0.4,0.6,0.8]}}}},
{"data":{"values":[{}]},"mark":{"type":"text","style":"iovtext"},"encoding":{"x":{"datum":1,"type":"ordinal"},"y":{"datum":0.74,"axis":{"values":[0,0.2,0.4,0.6,0.8]}},"text":{"value":"Expert IOV: 0.74"}}},
{"data":{"values":[{}]},"mark":{"type":"text","style":"pcttext","color":"#e42a2a"},"encoding":{"x":{"datum":20,"type":"ordinal"},"y":{"datum":1.0,"axis":{"values":[0,0.2,0.4,0.6,0.8]}},"text":{"value":"% over IOV = 41 (16/39)"}}}]},
{"title":"GTV","width":183,"height":127,"data":{"name":"gtvs"},"layer":[
{"mark":"bar","encoding":{"x":{"field":"i","type":"ordinal","title":null},"y":{"field":"v","type":"quantitative","title":null,"scale":{"domain":[0,1.03],"nice":false},"axis":{"values":[0,0.2,0.4,0.6,0.8,1.0]}},"color":{"field":"i","type":"quantitative","legend":null,"scale":{"domain":[1,11,21,31,41],"range":["#f6a18c","#ee6a55","#dc3a2d","#97302a","#352626"]}}}},
{"data":{"values":[{}]},"mark":{"type":"rule","style":"iovline","color":"#111"},"encoding":{"y":{"datum":0.94,"axis":{"values":[0,0.2,0.4,0.6,0.8,1.0]}}}},
{"data":{"values":[{}]},"mark":{"type":"text","style":"iovtext"},"encoding":{"x":{"datum":1,"type":"ordinal"},"y":{"datum":0.94,"axis":{"values":[0,0.2,0.4,0.6,0.8,1.0]}},"text":{"value":"Expert IOV: 0.94"}}},
{"data":{"values":[{}]},"mark":{"type":"text","style":"pcttext","color":"#e42a2a"},"encoding":{"x":{"datum":21,"type":"ordinal"},"y":{"datum":1.03,"axis":{"values":[0,0.2,0.4,0.6,0.8,1.0]}},"text":{"value":"% over IOV = 37 (15/41)"}}}]},
{"title":"CTV","width":183,"height":127,"data":{"name":"ctvs"},"layer":[
{"mark":"bar","encoding":{"x":{"field":"i","type":"ordinal","title":null},"y":{"field":"v","type":"quantitative","title":null,"scale":{"domain":[0,0.87],"nice":false},"axis":{"values":[0,0.1,0.2,0.3,0.4,0.5,0.6,0.7,0.8]}},"color":{"field":"i","type":"quantitative","legend":null,"scale":{"domain":[1,9,16,24,32],"range":["#f6a18c","#ee6a55","#dc3a2d","#97302a","#352626"]}}}},
{"data":{"values":[{}]},"mark":{"type":"rule","style":"iovline","color":"#111"},"encoding":{"y":{"datum":0.71,"axis":{"values":[0,0.1,0.2,0.3,0.4,0.5,0.6,0.7,0.8]}}}},
{"data":{"values":[{}]},"mark":{"type":"text","style":"iovtext"},"encoding":{"x":{"datum":1,"type":"ordinal"},"y":{"datum":0.71,"axis":{"values":[0,0.1,0.2,0.3,0.4,0.5,0.6,0.7,0.8]}},"text":{"value":"Expert IOV: 0.71"}}},
{"data":{"values":[{}]},"mark":{"type":"text","style":"pcttext","color":"#e42a2a"},"encoding":{"x":{"datum":16,"type":"ordinal"},"y":{"datum":0.87,"axis":{"values":[0,0.1,0.2,0.3,0.4,0.5,0.6,0.7,0.8]}},"text":{"value":"% over IOV = 19 (6/32)"}}}]}
]},
{"title":{"text":"Head and Neck","orient":"right","anchor":"middle","fontSize":17,"fontWeight":"normal","color":"#7272ee","offset":18},
"spacing":46,"resolve":{"scale":{"color":"independent"}},
"vconcat":[
{"spacing":20,"bounds":"flush","resolve":{"scale":{"color":"independent"}},
"hconcat":[
{"title":"GTVp","width":183,"height":127,"data":{"name":"gtvp"},"layer":[
{"mark":"bar","encoding":{"x":{"field":"i","type":"ordinal","title":null},"y":{"field":"v","type":"quantitative","title":null,"scale":{"domain":[0,0.87],"nice":false},"axis":{"values":[0,0.1,0.2,0.3,0.4,0.5,0.6,0.7,0.8]}},"color":{"field":"i","type":"quantitative","legend":null,"scale":{"domain":[1,10,18,27,36],"range":["#a8d0e6","#63aed6","#1d8bc0","#2f6884","#2b2d31"]}}}},
{"data":{"values":[{}]},"mark":{"type":"rule","style":"iovline","color":"#111"},"encoding":{"y":{"datum":0.78,"axis":{"values":[0,0.1,0.2,0.3,0.4,0.5,0.6,0.7,0.8]}}}},
{"data":{"values":[{}]},"mark":{"type":"text","style":"iovtext"},"encoding":{"x":{"datum":1,"type":"ordinal"},"y":{"datum":0.78,"axis":{"values":[0,0.1,0.2,0.3,0.4,0.5,0.6,0.7,0.8]}},"text":{"value":"Expert IOV: 0.78"}}},
{"data":{"values":[{}]},"mark":{"type":"text","style":"pcttext","color":"#e42a2a"},"encoding":{"x":{"datum":18,"type":"ordinal"},"y":{"datum":0.87,"axis":{"values":[0,0.1,0.2,0.3,0.4,0.5,0.6,0.7,0.8]}},"text":{"value":"% over IOV = 28 (10/36)"}}}]},
{"title":"GTVn","width":183,"height":127,"data":{"name":"gtvn"},"layer":[
{"mark":"bar","encoding":{"x":{"field":"i","type":"ordinal","title":null},"y":{"field":"v","type":"quantitative","title":null,"scale":{"domain":[0,0.97],"nice":false},"axis":{"values":[0,0.2,0.4,0.6,0.8]}},"color":{"field":"i","type":"quantitative","legend":null,"scale":{"domain":[1,11,21,32,42],"range":["#a8d0e6","#63aed6","#1d8bc0","#2f6884","#2b2d31"]}}}},
{"data":{"values":[{}]},"mark":{"type":"rule","style":"iovline","color":"#111"},"encoding":{"y":{"datum":0.90,"axis":{"values":[0,0.2,0.4,0.6,0.8]}}}},
{"data":{"values":[{}]},"mark":{"type":"text","style":"iovtext"},"encoding":{"x":{"datum":1,"type":"ordinal"},"y":{"datum":0.90,"axis":{"values":[0,0.2,0.4,0.6,0.8]}},"text":{"value":"Expert IOV: 0.90"}}},
{"data":{"values":[{}]},"mark":{"type":"text","style":"pcttext","color":"#e42a2a"},"encoding":{"x":{"datum":21,"type":"ordinal"},"y":{"datum":0.97,"axis":{"values":[0,0.2,0.4,0.6,0.8]}},"text":{"value":"% over IOV = 24 (10/42)"}}}]},
{"title":"CTV1","width":183,"height":127,"data":{"name":"ctv1"},"layer":[
{"mark":"bar","encoding":{"x":{"field":"i","type":"ordinal","title":null},"y":{"field":"v","type":"quantitative","title":null,"scale":{"domain":[0,0.92],"nice":false},"axis":{"values":[0,0.2,0.4,0.6,0.8]}},"color":{"field":"i","type":"quantitative","legend":null,"scale":{"domain":[1,10,18,27,36],"range":["#a8d0e6","#63aed6","#1d8bc0","#2f6884","#2b2d31"]}}}},
{"data":{"values":[{}]},"mark":{"type":"rule","style":"iovline","color":"#111"},"encoding":{"y":{"datum":0.85,"axis":{"values":[0,0.2,0.4,0.6,0.8]}}}},
{"data":{"values":[{}]},"mark":{"type":"text","style":"iovtext"},"encoding":{"x":{"datum":1,"type":"ordinal"},"y":{"datum":0.85,"axis":{"values":[0,0.2,0.4,0.6,0.8]}},"text":{"value":"Expert IOV: 0.85"}}},
{"data":{"values":[{}]},"mark":{"type":"text","style":"pcttext","color":"#e42a2a"},"encoding":{"x":{"datum":18,"type":"ordinal"},"y":{"datum":0.92,"axis":{"values":[0,0.2,0.4,0.6,0.8]}},"text":{"value":"% over IOV = 25 (9/36)"}}}]},
{"title":"CTV2","width":183,"height":127,"data":{"name":"ctv2"},"layer":[
{"mark":"bar","encoding":{"x":{"field":"i","type":"ordinal","title":null},"y":{"field":"v","type":"quantitative","title":null,"scale":{"domain":[0,0.835],"nice":false},"axis":{"values":[0,0.1,0.2,0.3,0.4,0.5,0.6,0.7,0.8]}},"color":{"field":"i","type":"quantitative","legend":null,"scale":{"domain":[1,10,19,28,37],"range":["#a8d0e6","#63aed6","#1d8bc0","#2f6884","#2b2d31"]}}}},
{"data":{"values":[{}]},"mark":{"type":"rule","style":"iovline","color":"#111"},"encoding":{"y":{"datum":0.70,"axis":{"values":[0,0.1,0.2,0.3,0.4,0.5,0.6,0.7,0.8]}}}},
{"data":{"values":[{}]},"mark":{"type":"text","style":"iovtext"},"encoding":{"x":{"datum":1,"type":"ordinal"},"y":{"datum":0.70,"axis":{"values":[0,0.1,0.2,0.3,0.4,0.5,0.6,0.7,0.8]}},"text":{"value":"Expert IOV: 0.70"}}},
{"data":{"values":[{}]},"mark":{"type":"text","style":"pcttext","color":"#e42a2a"},"encoding":{"x":{"datum":19,"type":"ordinal"},"y":{"datum":0.835,"axis":{"values":[0,0.1,0.2,0.3,0.4,0.5,0.6,0.7,0.8]}},"text":{"value":"% over IOV = 27 (10/37)"}}}]},
{"title":"Brainstem","width":183,"height":127,"data":{"name":"brain"},"layer":[
{"mark":"bar","encoding":{"x":{"field":"i","type":"ordinal","title":null},"y":{"field":"v","type":"quantitative","title":null,"scale":{"domain":[0,0.92],"nice":false},"axis":{"values":[0,0.2,0.4,0.6,0.8]}},"color":{"field":"i","type":"quantitative","legend":null,"scale":{"domain":[1,11,21,32,42],"range":["#a8d0e6","#63aed6","#1d8bc0","#2f6884","#2b2d31"]}}}},
{"data":{"values":[{}]},"mark":{"type":"rule","style":"iovline","color":"#111"},"encoding":{"y":{"datum":0.81,"axis":{"values":[0,0.2,0.4,0.6,0.8]}}}},
{"data":{"values":[{}]},"mark":{"type":"text","style":"iovtext"},"encoding":{"x":{"datum":1,"type":"ordinal"},"y":{"datum":0.81,"axis":{"values":[0,0.2,0.4,0.6,0.8]}},"text":{"value":"Expert IOV: 0.81"}}},
{"data":{"values":[{}]},"mark":{"type":"text","style":"pcttext","color":"#e42a2a"},"encoding":{"x":{"datum":21,"type":"ordinal"},"y":{"datum":0.92,"axis":{"values":[0,0.2,0.4,0.6,0.8]}},"text":{"value":"% over IOV = 55 (23/42)"}}}]}
]},
{"spacing":20,"bounds":"flush","resolve":{"scale":{"color":"independent"}},
"hconcat":[
{"title":"Glnd_Submand_L","width":183,"height":127,"data":{"name":"glndl"},"layer":[
{"mark":"bar","encoding":{"x":{"field":"i","type":"ordinal","title":null},"y":{"field":"v","type":"quantitative","title":null,"scale":{"domain":[0,0.955],"nice":false},"axis":{"values":[0,0.2,0.4,0.6,0.8]}},"color":{"field":"i","type":"quantitative","legend":null,"scale":{"domain":[1,11,21,31,41],"range":["#a8d0e6","#63aed6","#1d8bc0","#2f6884","#2b2d31"]}}}},
{"data":{"values":[{}]},"mark":{"type":"rule","style":"iovline","color":"#111"},"encoding":{"y":{"datum":0.85,"axis":{"values":[0,0.2,0.4,0.6,0.8]}}}},
{"data":{"values":[{}]},"mark":{"type":"text","style":"iovtext"},"encoding":{"x":{"datum":1,"type":"ordinal"},"y":{"datum":0.85,"axis":{"values":[0,0.2,0.4,0.6,0.8]}},"text":{"value":"Expert IOV: 0.85"}}},
{"data":{"values":[{}]},"mark":{"type":"text","style":"pcttext","color":"#e42a2a"},"encoding":{"x":{"datum":21,"type":"ordinal"},"y":{"datum":0.955,"axis":{"values":[0,0.2,0.4,0.6,0.8]}},"text":{"value":"% over IOV = 78 (32/41)"}}}]},
{"title":"Glnd_Submand_R","width":183,"height":127,"data":{"name":"glndr"},"layer":[
{"mark":"bar","encoding":{"x":{"field":"i","type":"ordinal","title":null},"y":{"field":"v","type":"quantitative","title":null,"scale":{"domain":[0,0.955],"nice":false},"axis":{"values":[0,0.2,0.4,0.6,0.8]}},"color":{"field":"i","type":"quantitative","legend":null,"scale":{"domain":[1,10,19,28,37],"range":["#a8d0e6","#63aed6","#1d8bc0","#2f6884","#2b2d31"]}}}},
{"data":{"values":[{}]},"mark":{"type":"rule","style":"iovline","color":"#111"},"encoding":{"y":{"datum":0.80,"axis":{"values":[0,0.2,0.4,0.6,0.8]}}}},
{"data":{"values":[{}]},"mark":{"type":"text","style":"iovtext"},"encoding":{"x":{"datum":1,"type":"ordinal"},"y":{"datum":0.80,"axis":{"values":[0,0.2,0.4,0.6,0.8]}},"text":{"value":"Expert IOV: 0.80"}}},
{"data":{"values":[{}]},"mark":{"type":"text","style":"pcttext","color":"#e42a2a"},"encoding":{"x":{"datum":19,"type":"ordinal"},"y":{"datum":0.955,"axis":{"values":[0,0.2,0.4,0.6,0.8]}},"text":{"value":"% over IOV = 30 (11/37)"}}}]},
{"title":"Larynx","width":183,"height":127,"data":{"name":"larynx"},"layer":[
{"mark":"bar","encoding":{"x":{"field":"i","type":"ordinal","title":null},"y":{"field":"v","type":"quantitative","title":null,"scale":{"domain":[0,0.93],"nice":false},"axis":{"values":[0,0.2,0.4,0.6,0.8]}},"color":{"field":"i","type":"quantitative","legend":null,"scale":{"domain":[1,12,22,33,44],"range":["#a8d0e6","#63aed6","#1d8bc0","#2f6884","#2b2d31"]}}}},
{"data":{"values":[{}]},"mark":{"type":"rule","style":"iovline","color":"#111"},"encoding":{"y":{"datum":0.60,"axis":{"values":[0,0.2,0.4,0.6,0.8]}}}},
{"data":{"values":[{}]},"mark":{"type":"text","style":"iovtext"},"encoding":{"x":{"datum":1,"type":"ordinal"},"y":{"datum":0.60,"axis":{"values":[0,0.2,0.4,0.6,0.8]}},"text":{"value":"Expert IOV: 0.60"}}},
{"data":{"values":[{}]},"mark":{"type":"text","style":"pcttext","color":"#e42a2a"},"encoding":{"x":{"datum":22,"type":"ordinal"},"y":{"datum":0.93,"axis":{"values":[0,0.2,0.4,0.6,0.8]}},"text":{"value":"% over IOV = 66 (29/44)"}}}]},
{"title":"Musc_Constrict","width":183,"height":127,"data":{"name":"musc"},"layer":[
{"mark":"bar","encoding":{"x":{"field":"i","type":"ordinal","title":null},"y":{"field":"v","type":"quantitative","title":null,"scale":{"domain":[0,0.79],"nice":false},"axis":{"values":[0,0.1,0.2,0.3,0.4,0.5,0.6,0.7]}},"color":{"field":"i","type":"quantitative","legend":null,"scale":{"domain":[1,9,17,26,34],"range":["#a8d0e6","#63aed6","#1d8bc0","#2f6884","#2b2d31"]}}}},
{"data":{"values":[{}]},"mark":{"type":"rule","style":"iovline","color":"#111"},"encoding":{"y":{"datum":0.67,"axis":{"values":[0,0.1,0.2,0.3,0.4,0.5,0.6,0.7]}}}},
{"data":{"values":[{}]},"mark":{"type":"text","style":"iovtext"},"encoding":{"x":{"datum":1,"type":"ordinal"},"y":{"datum":0.67,"axis":{"values":[0,0.1,0.2,0.3,0.4,0.5,0.6,0.7]}},"text":{"value":"Expert IOV: 0.67"}}},
{"data":{"values":[{}]},"mark":{"type":"text","style":"pcttext","color":"#e42a2a"},"encoding":{"x":{"datum":17,"type":"ordinal"},"y":{"datum":0.79,"axis":{"values":[0,0.1,0.2,0.3,0.4,0.5,0.6,0.7]}},"text":{"value":"% over IOV = 29 (10/34)"}}}]},
{"title":"Parotid_L","width":183,"height":127,"data":{"name":"parl"},"layer":[
{"mark":"bar","encoding":{"x":{"field":"i","type":"ordinal","title":null},"y":{"field":"v","type":"quantitative","title":null,"scale":{"domain":[0,0.955],"nice":false},"axis":{"values":[0,0.2,0.4,0.6,0.8]}},"color":{"field":"i","type":"quantitative","legend":null,"scale":{"domain":[1,12,23,35,46],"range":["#a8d0e6","#63aed6","#1d8bc0","#2f6884","#2b2d31"]}}}},
{"data":{"values":[{}]},"mark":{"type":"rule","style":"iovline","color":"#111"},"encoding":{"y":{"datum":0.85,"axis":{"values":[0,0.2,0.4,0.6,0.8]}}}},
{"data":{"values":[{}]},"mark":{"type":"text","style":"iovtext"},"encoding":{"x":{"datum":1,"type":"ordinal"},"y":{"datum":0.85,"axis":{"values":[0,0.2,0.4,0.6,0.8]}},"text":{"value":"Expert IOV: 0.85"}}},
{"data":{"values":[{}]},"mark":{"type":"text","style":"pcttext","color":"#e42a2a"},"encoding":{"x":{"datum":23,"type":"ordinal"},"y":{"datum":0.955,"axis":{"values":[0,0.2,0.4,0.6,0.8]}},"text":{"value":"% over IOV = 27 (12/46)"}}}]}
]}
]},
{"title":{"text":"Gynecologic","orient":"right","anchor":"middle","fontSize":17,"fontWeight":"normal","color":"#e27ae2","offset":18},
"spacing":20,"bounds":"flush","resolve":{"scale":{"color":"independent"}},
"hconcat":[
{"title":"Parotid_R","width":183,"height":127,"data":{"name":"parr"},"layer":[
{"mark":"bar","encoding":{"x":{"field":"i","type":"ordinal","title":null},"y":{"field":"v","type":"quantitative","title":null,"scale":{"domain":[0,0.94],"nice":false},"axis":{"values":[0,0.2,0.4,0.6,0.8]}},"color":{"field":"i","type":"quantitative","legend":null,"scale":{"domain":[1,12,23,35,46],"range":["#a8d0e6","#63aed6","#1d8bc0","#2f6884","#2b2d31"]}}}},
{"data":{"values":[{}]},"mark":{"type":"rule","style":"iovline","color":"#111"},"encoding":{"y":{"datum":0.87,"axis":{"values":[0,0.2,0.4,0.6,0.8]}}}},
{"data":{"values":[{}]},"mark":{"type":"text","style":"iovtext"},"encoding":{"x":{"datum":1,"type":"ordinal"},"y":{"datum":0.87,"axis":{"values":[0,0.2,0.4,0.6,0.8]}},"text":{"value":"Expert IOV: 0.87"}}},
{"data":{"values":[{}]},"mark":{"type":"text","style":"pcttext","color":"#e42a2a"},"encoding":{"x":{"datum":23,"type":"ordinal"},"y":{"datum":0.94,"axis":{"values":[0,0.2,0.4,0.6,0.8]}},"text":{"value":"% over IOV = 28 (13/46)"}}}]},
{"title":"GTVn","width":183,"height":127,"data":{"name":"ggtvn"},"layer":[
{"mark":"bar","encoding":{"x":{"field":"i","type":"ordinal","title":null},"y":{"field":"v","type":"quantitative","title":null,"scale":{"domain":[0,0.92],"nice":false},"axis":{"values":[0,0.2,0.4,0.6,0.8]}},"color":{"field":"i","type":"quantitative","legend":null,"scale":{"domain":[1,8,15,23,30],"range":["#c4bce4","#a299cc","#7a6f9e","#5a566b","#393939"]}}}},
{"data":{"values":[{}]},"mark":{"type":"rule","style":"iovline","color":"#111"},"encoding":{"y":{"datum":0.79,"axis":{"values":[0,0.2,0.4,0.6,0.8]}}}},
{"data":{"values":[{}]},"mark":{"type":"text","style":"iovtext"},"encoding":{"x":{"datum":1,"type":"ordinal"},"y":{"datum":0.79,"axis":{"values":[0,0.2,0.4,0.6,0.8]}},"text":{"value":"Expert IOV: 0.79"}}},
{"data":{"values":[{}]},"mark":{"type":"text","style":"pcttext","color":"#e42a2a"},"encoding":{"x":{"datum":15,"type":"ordinal"},"y":{"datum":0.92,"axis":{"values":[0,0.2,0.4,0.6,0.8]}},"text":{"value":"% over IOV = 70 (21/30)"}}}]},
{"title":"CTVn_4500","width":183,"height":127,"data":{"name":"ctvn45"},"layer":[
{"mark":"bar","encoding":{"x":{"field":"i","type":"ordinal","title":null},"y":{"field":"v","type":"quantitative","title":null,"scale":{"domain":[0,0.83],"nice":false},"axis":{"values":[0,0.1,0.2,0.3,0.4,0.5,0.6,0.7,0.8]}},"color":{"field":"i","type":"quantitative","legend":null,"scale":{"domain":[1,6,11,16,21],"range":["#c4bce4","#a299cc","#7a6f9e","#5a566b","#393939"]}}}},
{"data":{"values":[{}]},"mark":{"type":"rule","style":"iovline","color":"#111"},"encoding":{"y":{"datum":0.71,"axis":{"values":[0,0.1,0.2,0.3,0.4,0.5,0.6,0.7,0.8]}}}},
{"data":{"values":[{}]},"mark":{"type":"text","style":"iovtext"},"encoding":{"x":{"datum":1,"type":"ordinal"},"y":{"datum":0.71,"axis":{"values":[0,0.1,0.2,0.3,0.4,0.5,0.6,0.7,0.8]}},"text":{"value":"Expert IOV: 0.71"}}},
{"data":{"values":[{}]},"mark":{"type":"text","style":"pcttext","color":"#e42a2a"},"encoding":{"x":{"datum":11,"type":"ordinal"},"y":{"datum":0.83,"axis":{"values":[0,0.1,0.2,0.3,0.4,0.5,0.6,0.7,0.8]}},"text":{"value":"% over IOV = 38 (8/21)"}}}]},
{"title":"CTVp_4500","width":183,"height":127,"data":{"name":"ctvp45"},"layer":[
{"mark":"bar","encoding":{"x":{"field":"i","type":"ordinal","title":null},"y":{"field":"v","type":"quantitative","title":null,"scale":{"domain":[0,0.88],"nice":false},"axis":{"values":[0,0.1,0.2,0.3,0.4,0.5,0.6,0.7,0.8]}},"color":{"field":"i","type":"quantitative","legend":null,"scale":{"domain":[1,8,15,23,30],"range":["#c4bce4","#a299cc","#7a6f9e","#5a566b","#393939"]}}}},
{"data":{"values":[{}]},"mark":{"type":"rule","style":"iovline","color":"#111"},"encoding":{"y":{"datum":0.78,"axis":{"values":[0,0.1,0.2,0.3,0.4,0.5,0.6,0.7,0.8]}}}},
{"data":{"values":[{}]},"mark":{"type":"text","style":"iovtext"},"encoding":{"x":{"datum":1,"type":"ordinal"},"y":{"datum":0.78,"axis":{"values":[0,0.1,0.2,0.3,0.4,0.5,0.6,0.7,0.8]}},"text":{"value":"Expert IOV: 0.78"}}},
{"data":{"values":[{}]},"mark":{"type":"text","style":"pcttext","color":"#e42a2a"},"encoding":{"x":{"datum":15,"type":"ordinal"},"y":{"datum":0.88,"axis":{"values":[0,0.1,0.2,0.3,0.4,0.5,0.6,0.7,0.8]}},"text":{"value":"% over IOV = 27 (8/30)"}}}]},
{"title":"Bowel_Small","width":183,"height":127,"data":{"name":"bowel"},"layer":[
{"mark":"bar","encoding":{"x":{"field":"i","type":"ordinal","title":null},"y":{"field":"v","type":"quantitative","title":null,"scale":{"domain":[0,0.90],"nice":false},"axis":{"values":[0,0.1,0.2,0.3,0.4,0.5,0.6,0.7,0.8]}},"color":{"field":"i","type":"quantitative","legend":null,"scale":{"domain":[1,7,13,19,25],"range":["#c4bce4","#a299cc","#7a6f9e","#5a566b","#393939"]}}}},
{"data":{"values":[{}]},"mark":{"type":"rule","style":"iovline","color":"#111"},"encoding":{"y":{"datum":0.78,"axis":{"values":[0,0.1,0.2,0.3,0.4,0.5,0.6,0.7,0.8]}}}},
{"data":{"values":[{}]},"mark":{"type":"text","style":"iovtext"},"encoding":{"x":{"datum":1,"type":"ordinal"},"y":{"datum":0.78,"axis":{"values":[0,0.1,0.2,0.3,0.4,0.5,0.6,0.7,0.8]}},"text":{"value":"Expert IOV: 0.78"}}},
{"data":{"values":[{}]},"mark":{"type":"text","style":"pcttext","color":"#e42a2a"},"encoding":{"x":{"datum":13,"type":"ordinal"},"y":{"datum":0.90,"axis":{"values":[0,0.1,0.2,0.3,0.4,0.5,0.6,0.7,0.8]}},"text":{"value":"% over IOV = 44 (11/25)"}}}]}
]},
{"title":{"text":"GI","orient":"right","anchor":"middle","fontSize":17,"fontWeight":"normal","color":"#34c038","offset":24},
"spacing":20,"bounds":"flush","resolve":{"scale":{"color":"independent"}},
"hconcat":[
{"title":"CTV_4500","width":183,"height":127,"data":{"name":"ctv45"},"layer":[
{"mark":"bar","encoding":{"x":{"field":"i","type":"ordinal","title":null},"y":{"field":"v","type":"quantitative","title":null,"scale":{"domain":[0,0.86],"nice":false},"axis":{"values":[0,0.1,0.2,0.3,0.4,0.5,0.6,0.7,0.8]}},"color":{"field":"i","type":"quantitative","legend":null,"scale":{"domain":[1,5,9,13,17],"range":["#95d8a6","#58bb7e","#2b9a5e","#2b6448","#26362d"]}}}},
{"data":{"values":[{}]},"mark":{"type":"rule","style":"iovline","color":"#111"},"encoding":{"y":{"datum":0.78,"axis":{"values":[0,0.1,0.2,0.3,0.4,0.5,0.6,0.7,0.8]}}}},
{"data":{"values":[{}]},"mark":{"type":"text","style":"iovtext"},"encoding":{"x":{"datum":1,"type":"ordinal"},"y":{"datum":0.78,"axis":{"values":[0,0.1,0.2,0.3,0.4,0.5,0.6,0.7,0.8]}},"text":{"value":"Expert IOV: 0.78"}}},
{"data":{"values":[{}]},"mark":{"type":"text","style":"pcttext","color":"#e42a2a"},"encoding":{"x":{"datum":9,"type":"ordinal"},"y":{"datum":0.86,"axis":{"values":[0,0.1,0.2,0.3,0.4,0.5,0.6,0.7,0.8]}},"text":{"value":"% over IOV = 29 (5/17)"}}}]},
{"title":"CTV_5400","width":183,"height":127,"data":{"name":"ctv54"},"layer":[
{"mark":"bar","encoding":{"x":{"field":"i","type":"ordinal","title":null},"y":{"field":"v","type":"quantitative","title":null,"scale":{"domain":[0,0.90],"nice":false},"axis":{"values":[0,0.1,0.2,0.3,0.4,0.5,0.6,0.7,0.8]}},"color":{"field":"i","type":"quantitative","legend":null,"scale":{"domain":[1,5,8,12,16],"range":["#95d8a6","#58bb7e","#2b9a5e","#2b6448","#26362d"]}}}},
{"data":{"values":[{}]},"mark":{"type":"rule","style":"iovline","color":"#111"},"encoding":{"y":{"datum":0.62,"axis":{"values":[0,0.1,0.2,0.3,0.4,0.5,0.6,0.7,0.8]}}}},
{"data":{"values":[{}]},"mark":{"type":"text","style":"iovtext"},"encoding":{"x":{"datum":1,"type":"ordinal"},"y":{"datum":0.62,"axis":{"values":[0,0.1,0.2,0.3,0.4,0.5,0.6,0.7,0.8]}},"text":{"value":"Expert IOV: 0.62"}}},
{"data":{"values":[{}]},"mark":{"type":"text","style":"pcttext","color":"#e42a2a"},"encoding":{"x":{"datum":8,"type":"ordinal"},"y":{"datum":0.90,"axis":{"values":[0,0.1,0.2,0.3,0.4,0.5,0.6,0.7,0.8]}},"text":{"value":"% over IOV = 31 (5/16)"}}}]},
{"title":"Bag_Bowel","width":183,"height":127,"data":{"name":"bag"},"layer":[
{"mark":"bar","encoding":{"x":{"field":"i","type":"ordinal","title":null},"y":{"field":"v","type":"quantitative","title":null,"scale":{"domain":[0,0.89],"nice":false},"axis":{"values":[0,0.1,0.2,0.3,0.4,0.5,0.6,0.7,0.8]}},"color":{"field":"i","type":"quantitative","legend":null,"scale":{"domain":[1,4,8,11,15],"range":["#95d8a6","#58bb7e","#2b9a5e","#2b6448","#26362d"]}}}},
{"data":{"values":[{}]},"mark":{"type":"rule","style":"iovline","color":"#111"},"encoding":{"y":{"datum":0.64,"axis":{"values":[0,0.1,0.2,0.3,0.4,0.5,0.6,0.7,0.8]}}}},
{"data":{"values":[{}]},"mark":{"type":"text","style":"iovtext"},"encoding":{"x":{"datum":1,"type":"ordinal"},"y":{"datum":0.64,"axis":{"values":[0,0.1,0.2,0.3,0.4,0.5,0.6,0.7,0.8]}},"text":{"value":"Expert IOV: 0.64"}}},
{"data":{"values":[{}]},"mark":{"type":"text","style":"pcttext","color":"#e42a2a"},"encoding":{"x":{"datum":8,"type":"ordinal"},"y":{"datum":0.89,"axis":{"values":[0,0.1,0.2,0.3,0.4,0.5,0.6,0.7,0.8]}},"text":{"value":"% over IOV = 73 (11/15)"}}}]}
]}
]
}]
}
